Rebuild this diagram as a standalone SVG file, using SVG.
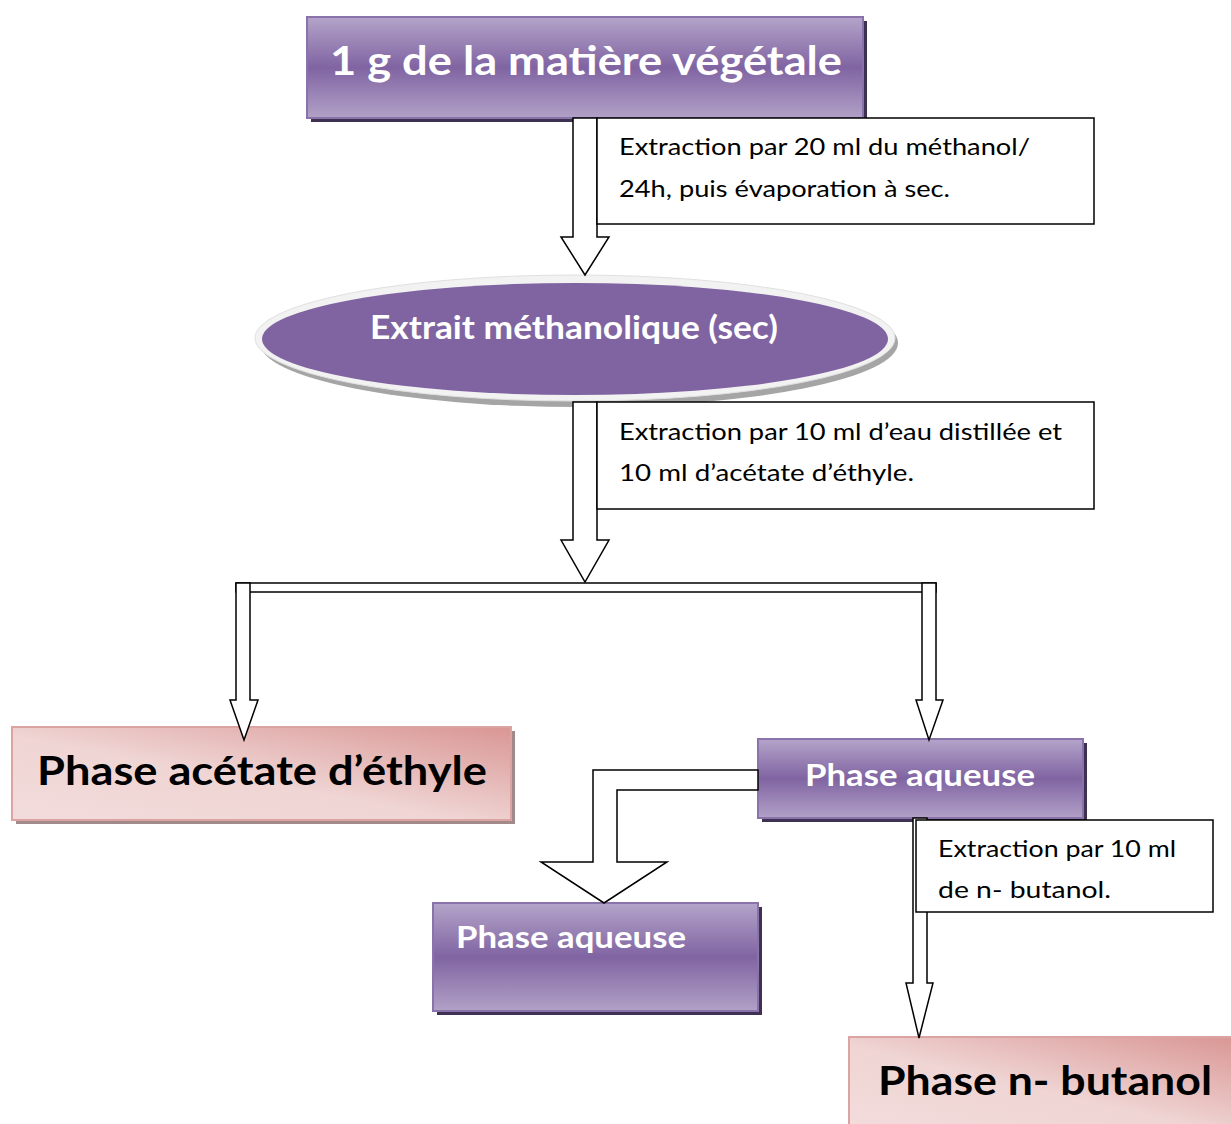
<svg xmlns="http://www.w3.org/2000/svg" width="1231" height="1124" viewBox="0 0 1231 1124">
  <defs>
    <linearGradient id="gPurple" x1="0" y1="0" x2="0" y2="1">
      <stop offset="0" stop-color="#b4a4c9"/>
      <stop offset="0.5" stop-color="#8064a2"/>
      <stop offset="1" stop-color="#b2a1c7"/>
    </linearGradient>
    <linearGradient id="gPink" x1="0" y1="1" x2="1" y2="0">
      <stop offset="0" stop-color="#f2dcdb"/>
      <stop offset="0.45" stop-color="#efd5d4"/>
      <stop offset="1" stop-color="#d99694"/>
    </linearGradient>
  </defs>
  <style>
    .shadowP { fill: #3f3151; }
    .shadowR { fill: #a38a8a; }
    .boxP { fill: url(#gPurple); stroke: #8a72ab; stroke-width: 2; }
    .boxR { fill: url(#gPink); stroke: #dba3a1; stroke-width: 2; }
    .note { fill: #ffffff; stroke: #000000; stroke-width: 1.5; }
    .arrow { fill: #ffffff; stroke: #000000; stroke-width: 1.5; stroke-linejoin: miter; }
    .tw { font-family: Lato, "Open Sans", "Liberation Sans", sans-serif; font-weight: bold; fill: #ffffff; }
    .tb { font-family: Lato, "Open Sans", "Liberation Sans", sans-serif; font-weight: bold; fill: #000000; }
    .tn { font-family: Lato, "Open Sans", "Liberation Sans", sans-serif; font-size: 23px; fill: #000000; }
  </style>

  <rect width="1231" height="1124" fill="#ffffff"/>

  <!-- starting plant matter -->
  <g id="node-matiere">
    <rect class="shadowP" x="311" y="21" width="556" height="101"/>
    <rect class="boxP" x="307" y="17" width="556" height="101"/>
    <text class="tw" x="586" y="75" font-size="40" text-anchor="middle" textLength="512" lengthAdjust="spacingAndGlyphs">1 g de la matière végétale</text>
  </g>

  <!-- dry methanol extract -->
  <g id="node-extrait">
    <ellipse cx="579" cy="343" rx="319" ry="64" fill="#a5a5a5"/>
    <ellipse cx="575" cy="338" rx="320" ry="63" fill="#f2f2f2" stroke="#e0e0e0" stroke-width="1"/>
    <ellipse cx="575" cy="339" rx="313" ry="56" fill="#8064a2"/>
    <text class="tw" x="574" y="339" font-size="32" text-anchor="middle" textLength="408" lengthAdjust="spacingAndGlyphs">Extrait méthanolique (sec)</text>
  </g>

  <!-- ethyl acetate phase -->
  <g id="node-acetate">
    <rect class="shadowR" x="16" y="731" width="499" height="93"/>
    <rect class="boxR" x="12" y="727" width="499" height="93"/>
    <text class="tb" x="262" y="785" font-size="40" text-anchor="middle" textLength="450" lengthAdjust="spacingAndGlyphs">Phase acétate d’éthyle</text>
  </g>

  <!-- aqueous phase -->
  <g id="node-aqueuse-1">
    <rect class="shadowP" x="762" y="743" width="325" height="79"/>
    <rect class="boxP" x="758" y="739" width="325" height="79"/>
    <text class="tw" x="920" y="786" font-size="31" text-anchor="middle" textLength="230" lengthAdjust="spacingAndGlyphs">Phase aqueuse</text>
  </g>

  <!-- remaining aqueous phase -->
  <g id="node-aqueuse-2">
    <rect class="shadowP" x="437" y="907" width="325" height="108"/>
    <rect class="boxP" x="433" y="903" width="325" height="108"/>
    <text class="tw" x="456" y="948" font-size="31" textLength="230" lengthAdjust="spacingAndGlyphs">Phase aqueuse</text>
  </g>

  <!-- n-butanol phase -->
  <g id="node-butanol">
    <rect class="shadowR" x="853" y="1041" width="382" height="90"/>
    <rect class="boxR" x="849" y="1037" width="385" height="90"/>
    <text class="tb" x="878" y="1095" font-size="40" textLength="334" lengthAdjust="spacingAndGlyphs">Phase n- butanol</text>
  </g>

  <!-- connectors: hollow block arrows -->
  <g id="connectors">
    <!-- plant matter to methanol extract -->
    <polygon class="arrow" points="573,118 597,118 597,237 609,237 585,275 561,237 573,237"/>
    <!-- extract to the splitter bar -->
    <polygon class="arrow" points="573,402 597,402 597,540 609,540 585,582 561,540 573,540"/>
    <!-- splitter bar -->
    <rect class="arrow" x="236" y="583" width="700" height="9"/>
    <polygon class="arrow" points="236,583 250,583 250,700 258,700 244,740 230,700 236,700"/>
    <polygon class="arrow" points="922,583 936,583 936,700 943,700 929,740 916,700 922,700"/>
    <!-- aqueous phase to second aqueous phase (bent) -->
    <polygon class="arrow" points="758,770 593,770 593,862 541,862 604,903 667,862 617,862 617,790 758,790"/>
    <!-- aqueous phase to n-butanol phase -->
    <polygon class="arrow" points="913,818 927,818 927,983 933,983 919,1038 906,983 913,983"/>
  </g>

  <!-- step notes beside the arrows -->
  <g id="note-methanol">
    <rect class="note" x="597" y="118" width="497" height="106"/>
    <text class="tn" x="619" y="155" textLength="411" lengthAdjust="spacingAndGlyphs">Extraction par 20 ml du méthanol/</text>
    <text class="tn" x="619" y="197" textLength="331" lengthAdjust="spacingAndGlyphs">24h, puis évaporation à sec.</text>
  </g>

  <g id="note-eau">
    <rect class="note" x="597" y="402" width="497" height="107"/>
    <text class="tn" x="619" y="440" textLength="443" lengthAdjust="spacingAndGlyphs">Extraction par 10 ml d’eau distillée et</text>
    <text class="tn" x="619" y="481" textLength="295" lengthAdjust="spacingAndGlyphs">10 ml d’acétate d’éthyle.</text>
  </g>

  <g id="note-butanol">
    <rect class="note" x="916" y="820" width="297" height="92"/>
    <text class="tn" x="938" y="857" textLength="238" lengthAdjust="spacingAndGlyphs">Extraction par 10 ml</text>
    <text class="tn" x="938" y="898" textLength="173" lengthAdjust="spacingAndGlyphs">de  n- butanol.</text>
  </g>
</svg>
